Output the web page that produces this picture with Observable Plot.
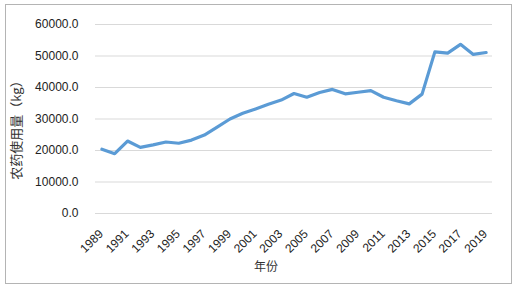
<!DOCTYPE html>
<html>
<head>
<meta charset="utf-8">
<script src="https://cdn.jsdelivr.net/npm/d3@7"></script>
<script src="https://cdn.jsdelivr.net/npm/@observablehq/plot@0.6"></script>
<style>
  html, body { margin: 0; padding: 0; background: #fff; }
  #wrap { position: relative; width: 519px; height: 288px; }
  #border { position: absolute; left: 5px; top: 4px; width: 505px; height: 278px; border: 1.5px solid #b4b4b4; pointer-events: none; }
  svg { font-family: "Liberation Sans", Arial, sans-serif; }
</style>
</head>
<body>
<div id="wrap"><div id="border"></div></div>
<script>
const years = [1989,1990,1991,1992,1993,1994,1995,1996,1997,1998,1999,2000,2001,2002,2003,2004,2005,2006,2007,2008,2009,2010,2011,2012,2013,2014,2015,2016,2017,2018,2019];
const usage = [20400,19000,23000,21000,21800,22700,22300,23300,24900,27400,30000,31800,33200,34700,36000,38100,36900,38400,39400,38000,38500,39000,36900,35800,34800,37900,51300,50900,53700,50500,51100];
const yTicks = [0,10000,20000,30000,40000,50000,60000];
const xTicks = years.filter((y, i) => i % 2 === 0);
const xTitle = ["年份"];
const yTitle = ["农药使用量（kg）"];

const data = years.map((y, i) => ({year: y, value: usage[i]}));

const chart = Plot.plot({
  width: 519,
  height: 288,
  marginLeft: 95,
  marginRight: 27,
  marginTop: 24,
  marginBottom: 75,
  x: {domain: [1988.5, 2019.5], axis: null},
  y: {domain: [0, 60000], axis: null},
  marks: [
    Plot.gridY(yTicks, {stroke: "#d9d9d9", strokeOpacity: 1, strokeWidth: 1}),
    Plot.axisY(yTicks, {tickSize: 0, tickPadding: 17, tickFormat: d => d.toFixed(1), fontSize: 12, fill: "#222", label: null}),
    Plot.text(xTicks, {x: d => d, frameAnchor: "bottom", text: d => String(d), rotate: -45, textAnchor: "end", dx: 2, dy: 21, fontSize: 12, fill: "#222"}),
    Plot.line(data, {x: "year", y: "value", stroke: "#5b9bd5", strokeWidth: 3.2, strokeLinejoin: "round"}),
    Plot.text(xTitle, {text: d => d, frameAnchor: "bottom", textAnchor: "middle", dx: -28, dy: 57, fontSize: 12, fill: "#333", fontFamily: "Noto Sans CJK SC"}),
    Plot.text(yTitle, {text: d => d, frameAnchor: "left", textAnchor: "middle", rotate: -90, dx: -79, dy: 8, fontSize: 13, fill: "#333", fontFamily: "Noto Sans CJK SC"})
  ]
});
document.getElementById("wrap").prepend(chart);
chart.style.position = "absolute";
chart.style.left = "0";
chart.style.top = "0";
</script>
</body>
</html>
